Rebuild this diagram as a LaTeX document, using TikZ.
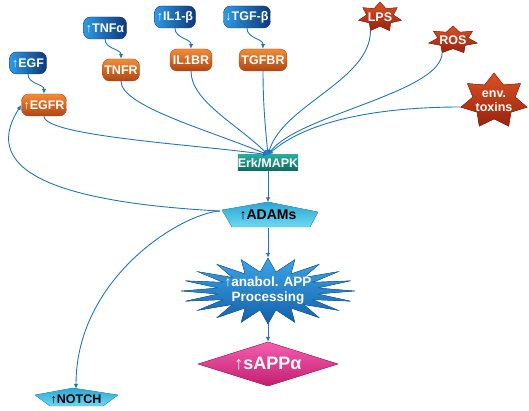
\documentclass[tikz,border=0pt]{standalone}
\usepackage{fontspec}
\setmainfont{Liberation Sans}
\usetikzlibrary{arrows.meta,shapes.geometric,backgrounds}

\definecolor{linkblue}{RGB}{30,118,196}
\definecolor{ligandlight}{RGB}{45,155,228}
\definecolor{liganddark}{RGB}{15,55,120}
\definecolor{receptorlight}{RGB}{242,140,55}
\definecolor{receptordark}{RGB}{175,70,20}
\definecolor{stresslight}{RGB}{220,80,35}
\definecolor{stressdark}{RGB}{150,35,15}
\definecolor{erklight}{RGB}{40,170,155}
\definecolor{erkdark}{RGB}{15,105,95}
\definecolor{adamlight}{RGB}{120,225,248}
\definecolor{adamdark}{RGB}{45,165,210}
\definecolor{burstlight}{RGB}{60,165,228}
\definecolor{burstdark}{RGB}{20,95,170}
\definecolor{sapplight}{RGB}{245,95,175}
\definecolor{sappdark}{RGB}{195,30,110}

% star outline: #1 corners, #2 x-radius, #3 y-radius, #4 inner ratio
\newcommand\spikes[4]{plot[samples at={0,1,...,#1}] ({#2*cos(90+360*\x/#1)*(mod(\x,2)==0 ? 1 : #4)},{#3*sin(90+360*\x/#1)*(mod(\x,2)==0 ? 1 : #4)}) -- cycle}

\tikzset{
  txt/.style={font=\bfseries\fontsize{12.5}{13.5}\selectfont, inner sep=0pt},
  ligand/.style={txt, rounded corners=7pt, draw=liganddark, left color=ligandlight, right color=liganddark, text=white, minimum height=22pt},
  receptor/.style={ligand, draw=receptordark, top color=receptorlight, bottom color=receptordark},
  stress/.style={txt, text=white, align=center},
  stressfill/.style={top color=stresslight, bottom color=stressdark, draw=stressdark},
  hub/.style={txt, text=white, top color=erklight, bottom color=erkdark, minimum width=60pt, minimum height=16pt},
  adamfill/.style={top color=adamdark, middle color=adamlight, bottom color=adamlight!85!adamdark, draw=adamdark, line width=0.4pt},
  link/.style={draw=linkblue, line width=0.9pt, -{Latex[length=5pt,width=4.5pt]}}
}

\begin{document}
\begin{tikzpicture}[x=1pt,y=1pt]
  \useasboundingbox (0,0) rectangle (529,411);

  \node [ligand,minimum width=37pt] (egf) at (28,348) {↑EGF};
  \node [receptor,minimum width=45pt] (egfr) at (44,306) {↑EGFR};
  \node [ligand,minimum width=43pt] (tnfa) at (105,383) {↑TNFα};
  \node [receptor,minimum width=37pt] (tnfr) at (121,341) {TNFR};
  \node [ligand,minimum width=41pt] (ilb) at (175,394) {↑IL1-β};
  \node [receptor,minimum width=42pt] (ilbr) at (191,351) {IL1BR};
  \node [ligand,minimum width=47pt] (tgfb) at (247,394) {↓TGF-β};
  \node [receptor,minimum width=48pt] (tgfbr) at (263,351) {TGFBR};

  \node [stress] (lps) at (380,394) {LPS};
  \node [stress] (ros) at (453,371) {ROS};
  \node [stress] (tox) at (494,310) {env.\\toxins};

  \node [hub] (erk) at (268,248) {Erk/MAPK};
  \node [txt,font=\bfseries\fontsize{14}{15}\selectfont,minimum width=96pt,minimum height=25pt] (adams) at (268,196) {↑ADAMs};
  \node [txt,text=white,align=center,ellipse,minimum width=174pt,minimum height=66pt,font=\bfseries\fontsize{13.5}{15}\selectfont] (anabol) at (268,120) {↑anabol. APP\\Processing};
  \node [txt,text=white,minimum width=138pt,minimum height=44pt,font=\bfseries\fontsize{18}{20}\selectfont] (sappa) at (268,47) {↑sAPPα};
  \node [txt,minimum width=82pt,minimum height=20pt] (notch) at (76,12) {↑NOTCH};

  \begin{scope}[on background layer]
    \fill [stressfill,shift={(lps.center)}] \spikes{14}{22}{15}{0.62};
    \fill [stressfill,shift={(ros.center)}] \spikes{14}{25}{14}{0.62};
    \fill [stressfill,shift={(tox.center)}] \spikes{14}{34}{28}{0.64};
    \fill [top color=burstlight,bottom color=burstdark,draw=burstdark,shift={(anabol.center)}] \spikes{40}{87}{33}{0.58};
    \filldraw [adamfill,shift={(adams.center)}] (-46,5) -- (0,13) -- (50,3) -- (42,-12) -- (-36,-12) -- cycle;
    \filldraw [adamfill,shift={(notch.center)}] (-41,4) -- (-3,11) -- (42,4) -- (27,-7) -- (-26,-7) -- cycle;
    \filldraw [top color=sapplight,bottom color=sappdark,draw=sappdark,shift={(sappa.center)}] (-70,0) -- (0,22) -- (70,0) -- (0,-22) -- cycle;
  \end{scope}

  \draw [link] (egf.south) to[out=-90,in=90] (egfr.north);
  \draw [link] (tnfa.south) to[out=-90,in=90] (tnfr.north);
  \draw [link] (ilb.south) to[out=-90,in=90] (ilbr.north);
  \draw [link] (tgfb.south) to[out=-90,in=90] (tgfbr.north);

  \draw [link] (egfr.south) .. controls +(0,-20) and +(-70,10) .. (erk.north);
  \draw [link] (tnfr.south) .. controls +(0,-25) and +(-60,25) .. (erk.north);
  \draw [link] (ilbr.south) .. controls +(0,-30) and +(-30,30) .. (erk.north);
  \draw [link] (tgfbr.south) .. controls +(0,-30) and +(-3,30) .. (erk.north);
  \draw [link] ([xshift=-9.5pt,yshift=-13.5pt]lps.center) .. controls +(0,-50) and +(15,50) .. (erk.north);
  \draw [link] ([xshift=-10.9pt,yshift=-12.6pt]ros.center) .. controls +(0,-40) and +(30,40) .. (erk.north);
  \draw [link] ([xshift=-33pt,yshift=-6pt]tox.center) .. controls +(-80,0) and +(40,35) .. (erk.north);

  \draw [link] (erk.south) -- (adams.north);
  \draw [link] (adams.south) -- (anabol.north);
  \draw [link] (anabol.south) -- (sappa.north);
  \draw [link] ([yshift=4pt]adams.west) .. controls +(-150,8) and +(-45,-70) .. (egfr.west);
  \draw [link] ([yshift=4pt]adams.west) .. controls +(-40,-3) and +(0,110) .. (notch.north);
\end{tikzpicture}
\end{document}
